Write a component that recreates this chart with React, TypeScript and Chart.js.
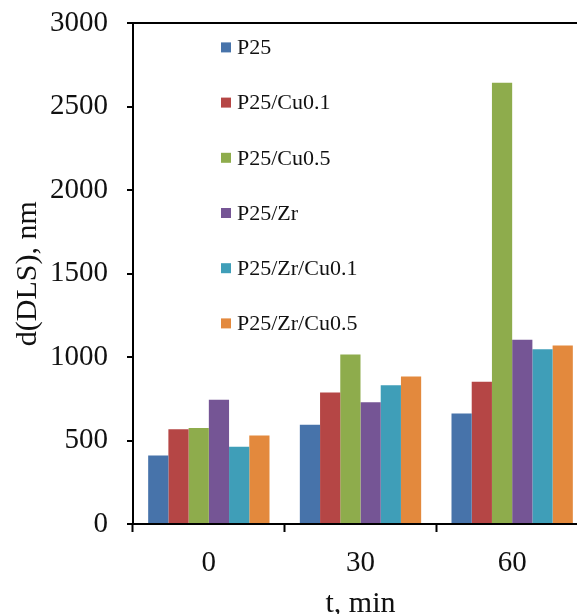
import React, { useEffect, useRef } from "react";
import { Chart, registerables } from "chart.js";

Chart.register(...registerables);

const categories = ["0", "30", "60"];
const seriesNames = ["P25", "P25/Cu0.1", "P25/Cu0.5", "P25/Zr", "P25/Zr/Cu0.1", "P25/Zr/Cu0.5"];
const p25 = [410, 595, 662];
const p25Cu01 = [568, 788, 853];
const p25Cu05 = [575, 1016, 2645];
const p25Zr = [745, 729, 1104];
const p25ZrCu01 = [463, 831, 1047];
const p25ZrCu05 = [530, 884, 1069];
const colors = ["#4773AA", "#B54645", "#8EAC4C", "#755595", "#3F9EB8", "#E3893D"];
const yTicks = [0, 500, 1000, 1500, 2000, 2500, 3000];

const FONT = "'Liberation Serif', 'Times New Roman', serif";

const legendPlugin = {
  id: "innerLegend",
  afterDraw(chart: any) {
    const ctx = chart.ctx;
    const area = chart.chartArea;
    ctx.save();
    ctx.font = `22px ${FONT}`;
    ctx.textBaseline = "middle";
    ctx.textAlign = "left";
    chart.data.datasets.forEach((ds: any, i: number) => {
      const cy = area.top + 24 + i * 55.2;
      const bx = area.left + 88;
      ctx.fillStyle = ds.backgroundColor;
      ctx.fillRect(bx, cy - 5, 10, 10);
      ctx.fillStyle = "#111";
      ctx.fillText(ds.label, bx + 16, cy + 1);
    });
    ctx.restore();
  },
};

export default function App() {
  const ref = useRef<HTMLCanvasElement>(null);
  useEffect(() => {
    if (!ref.current) return;
    const data = [p25, p25Cu01, p25Cu05, p25Zr, p25ZrCu01, p25ZrCu05];
    const chart = new Chart(ref.current, {
      type: "bar",
      data: {
        labels: categories,
        datasets: seriesNames.map((n, i) => ({
          label: n,
          data: data[i],
          backgroundColor: colors[i],
          borderWidth: 0,
          categoryPercentage: 0.8,
          barPercentage: 1.0,
        })),
      },
      options: {
        animation: false,
        responsive: false,
        layout: { padding: { top: 7, right: 0, left: 0, bottom: 0 } },
        plugins: { legend: { display: false }, tooltip: { enabled: false } },
        scales: {
          x: {
            offset: true,
            grid: {
              offset: true,
              drawOnChartArea: false,
              tickLength: 8,
              tickWidth: 2,
              tickColor: "#000",
            },
            border: { color: "#000", width: 2 },
            ticks: { color: "#111", font: { family: FONT, size: 29 }, padding: 14 },
            title: {
              display: true,
              text: "t, min",
              color: "#111",
              font: { family: FONT, size: 30 },
              padding: { top: 4, bottom: 8 },
            },
            afterFit: (scale: any) => {
              scale.height = 106;
            },
          },
          y: {
            min: 0,
            max: 3000,
            afterBuildTicks: (scale: any) => {
              scale.ticks = yTicks.map((v) => ({ value: v }));
            },
            grid: {
              color: (c: any) => (c.tick && c.tick.value === 3000 ? "#000" : "rgba(0,0,0,0)"),
              lineWidth: 2,
              tickLength: 6,
              tickWidth: 2,
              tickColor: "#000",
            },
            border: { color: "#000", width: 2 },
            ticks: {
              color: "#111",
              font: { family: FONT, size: 29 },
              padding: 19,
              callback: (v: any) => String(v),
            },
            title: {
              display: true,
              text: "d(DLS), nm",
              color: "#111",
              font: { family: FONT, size: 30 },
              padding: { top: 10, bottom: 0 },
            },
            afterFit: (scale: any) => {
              scale.width = 133;
            },
          },
        },
      },
      plugins: [legendPlugin],
    });
    return () => chart.destroy();
  }, []);
  return (
    <div
      style={{
        position: "fixed",
        left: 0,
        top: 0,
        width: 577,
        height: 614,
        overflow: "hidden",
        background: "#fff",
      }}
    >
      <canvas ref={ref} width={588} height={643} style={{ display: "block", marginTop: -13 }} />
    </div>
  );
}
